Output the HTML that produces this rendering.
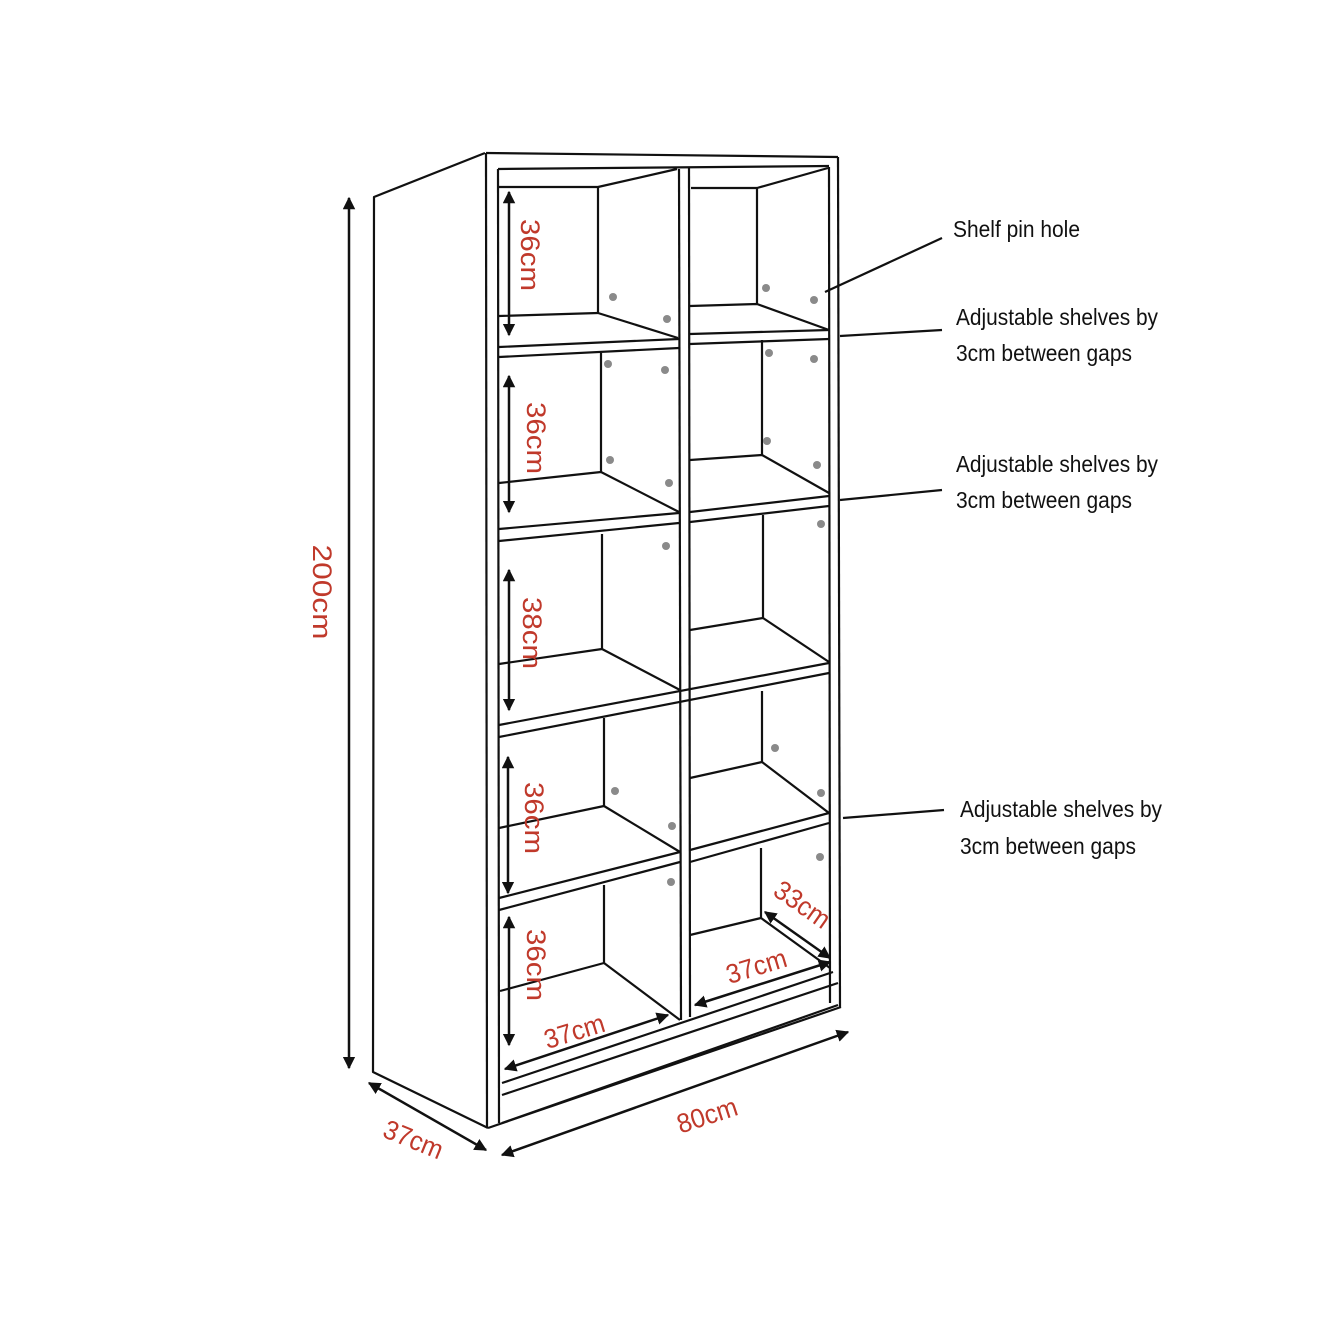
<!DOCTYPE html>
<html><head><meta charset="utf-8"><style>
html,body{margin:0;padding:0;background:#fff}
svg{display:block}
text{font-family:"Liberation Sans",sans-serif}
.r{fill:#c0392b;font-size:27px}
.b{fill:#111;font-size:23px}
</style></head><body>
<svg width="1321" height="1321" viewBox="0 0 1321 1321" xmlns="http://www.w3.org/2000/svg">
<defs>
<marker id="a" viewBox="0 0 10 10" refX="9" refY="5" markerWidth="5" markerHeight="5" orient="auto-start-reverse"><path d="M0,0L10,5L0,10z" fill="#111"/></marker>
</defs>
<g stroke="#111" stroke-width="2.2" fill="none" stroke-linejoin="round">
<!-- side panel -->
<polyline points="485,153 374,197 373,1072 488,1128"/>
<!-- front outer -->
<line x1="486" y1="153" x2="838" y2="157"/>
<line x1="486" y1="153" x2="487" y2="1128"/>
<line x1="498" y1="169" x2="499" y2="1123"/>
<line x1="838" y1="157" x2="840" y2="1007"/>
<line x1="829" y1="167" x2="830" y2="1003"/>
<line x1="498" y1="169" x2="829" y2="166"/>
<line x1="488" y1="1128" x2="841" y2="1007"/>
<line x1="502" y1="1123" x2="838" y2="1005"/>
<line x1="502" y1="1095" x2="838" y2="983"/>
<line x1="502" y1="1083" x2="833" y2="972"/>
<!-- middle divider -->
<line x1="679" y1="169" x2="681" y2="1020"/>
<line x1="689" y1="168" x2="690" y2="1017"/>
<!-- cell1 left -->
<polyline points="499,187 598,187 677,169"/>
<line x1="598" y1="187" x2="598" y2="313"/>
<polyline points="499,316 598,313 678,338"/>
<line x1="499" y1="347" x2="679" y2="339"/>
<line x1="499" y1="357" x2="679" y2="348"/>
<!-- cell1 right -->
<polyline points="691,188 757,188 828,168"/>
<line x1="757" y1="188" x2="757" y2="304"/>
<polyline points="690,306 757,304 829,330"/>
<line x1="690" y1="334" x2="829" y2="330"/>
<line x1="690" y1="344" x2="829" y2="339"/>
<!-- cell2 -->
<line x1="601" y1="353" x2="601" y2="472"/>
<polyline points="499,483 601,472 679,512"/>
<line x1="499" y1="529" x2="679" y2="513"/>
<line x1="499" y1="541" x2="679" y2="523"/>
<line x1="762" y1="340" x2="762" y2="455"/>
<polyline points="690,460 762,455 829,493"/>
<line x1="690" y1="512" x2="829" y2="496"/>
<line x1="690" y1="522" x2="829" y2="506"/>
<!-- cell3 -->
<line x1="602" y1="534" x2="602" y2="649"/>
<polyline points="499,664 602,649 680,690"/>
<line x1="763" y1="515" x2="763" y2="618"/>
<polyline points="690,630 763,618 829,662"/>
<line x1="499" y1="725" x2="829" y2="663"/>
<line x1="499" y1="737" x2="829" y2="673"/>
<!-- cell4 -->
<line x1="604" y1="718" x2="604" y2="806"/>
<polyline points="499,828 604,806 680,852"/>
<line x1="499" y1="898" x2="680" y2="852"/>
<line x1="499" y1="910" x2="680" y2="862"/>
<line x1="762" y1="691" x2="762" y2="762"/>
<polyline points="690,778 762,762 829,813"/>
<line x1="690" y1="850" x2="829" y2="813"/>
<line x1="690" y1="862" x2="829" y2="823"/>
<!-- cell5 -->
<line x1="604" y1="885" x2="604" y2="963"/>
<polyline points="500,991 604,963 680,1020"/>
<line x1="761" y1="848" x2="761" y2="918"/>
<polyline points="690,935 761,918 830,968"/>
<!-- leader lines -->
<line x1="825" y1="292" x2="942" y2="238"/>
<line x1="840" y1="336" x2="942" y2="330"/>
<line x1="840" y1="500" x2="942" y2="490"/>
<line x1="843" y1="818" x2="944" y2="810"/>
</g>
<!-- dims -->
<g stroke="#111" stroke-width="2.5" fill="none" marker-start="url(#a)" marker-end="url(#a)">
<line x1="349" y1="198" x2="349" y2="1068"/>
<line x1="369" y1="1083" x2="486" y2="1150"/>
<line x1="502" y1="1155" x2="848" y2="1032"/>
<line x1="509" y1="192" x2="509" y2="335"/>
<line x1="509" y1="376" x2="509" y2="512"/>
<line x1="509" y1="570" x2="509" y2="710"/>
<line x1="508" y1="757" x2="508" y2="893"/>
<line x1="509" y1="917" x2="509" y2="1045"/>
<line x1="505" y1="1069" x2="668" y2="1015"/>
<line x1="695" y1="1005" x2="830" y2="962"/>
<line x1="765" y1="912" x2="830" y2="958"/>
</g>
<g fill="#8a8a8a">
<circle cx="613" cy="297" r="4"/><circle cx="667" cy="319" r="4"/><circle cx="766" cy="288" r="4"/><circle cx="814" cy="300" r="4"/>
<circle cx="608" cy="364" r="4"/><circle cx="665" cy="370" r="4"/><circle cx="769" cy="353" r="4"/><circle cx="814" cy="359" r="4"/>
<circle cx="610" cy="460" r="4"/><circle cx="669" cy="483" r="4"/><circle cx="767" cy="441" r="4"/><circle cx="817" cy="465" r="4"/>
<circle cx="666" cy="546" r="4"/><circle cx="821" cy="524" r="4"/>
<circle cx="615" cy="791" r="4"/><circle cx="672" cy="826" r="4"/><circle cx="775" cy="748" r="4"/><circle cx="821" cy="793" r="4"/>
<circle cx="671" cy="882" r="4"/><circle cx="820" cy="857" r="4"/>
</g>
<g class="r">
<text transform="translate(313,592) rotate(90)" text-anchor="middle" textLength="95" lengthAdjust="spacingAndGlyphs">200cm</text>
<text transform="translate(521,255) rotate(90)" text-anchor="middle" textLength="72" lengthAdjust="spacingAndGlyphs">36cm</text>
<text transform="translate(527,438) rotate(90)" text-anchor="middle" textLength="72" lengthAdjust="spacingAndGlyphs">36cm</text>
<text transform="translate(523,633) rotate(90)" text-anchor="middle" textLength="72" lengthAdjust="spacingAndGlyphs">38cm</text>
<text transform="translate(525,818) rotate(90)" text-anchor="middle" textLength="72" lengthAdjust="spacingAndGlyphs">36cm</text>
<text transform="translate(527,965) rotate(90)" text-anchor="middle" textLength="72" lengthAdjust="spacingAndGlyphs">36cm</text>
<text transform="translate(577,1040) rotate(-17)" text-anchor="middle" textLength="62" lengthAdjust="spacingAndGlyphs">37cm</text>
<text transform="translate(759,975) rotate(-17)" text-anchor="middle" textLength="62" lengthAdjust="spacingAndGlyphs">37cm</text>
<text transform="translate(797,912) rotate(35)" text-anchor="middle" textLength="62" lengthAdjust="spacingAndGlyphs">33cm</text>
<text transform="translate(410,1148) rotate(22)" text-anchor="middle" textLength="62" lengthAdjust="spacingAndGlyphs">37cm</text>
<text transform="translate(710,1124) rotate(-18)" text-anchor="middle" textLength="62" lengthAdjust="spacingAndGlyphs">80cm</text>
</g>
<g class="b">
<text x="953" y="237" textLength="127" lengthAdjust="spacingAndGlyphs">Shelf pin hole</text>
<text x="956" y="325" textLength="202" lengthAdjust="spacingAndGlyphs">Adjustable shelves by</text>
<text x="956" y="361" textLength="176" lengthAdjust="spacingAndGlyphs">3cm between gaps</text>
<text x="956" y="472" textLength="202" lengthAdjust="spacingAndGlyphs">Adjustable shelves by</text>
<text x="956" y="508" textLength="176" lengthAdjust="spacingAndGlyphs">3cm between gaps</text>
<text x="960" y="817" textLength="202" lengthAdjust="spacingAndGlyphs">Adjustable shelves by</text>
<text x="960" y="854" textLength="176" lengthAdjust="spacingAndGlyphs">3cm between gaps</text>
</g>
</svg>
</body></html>
